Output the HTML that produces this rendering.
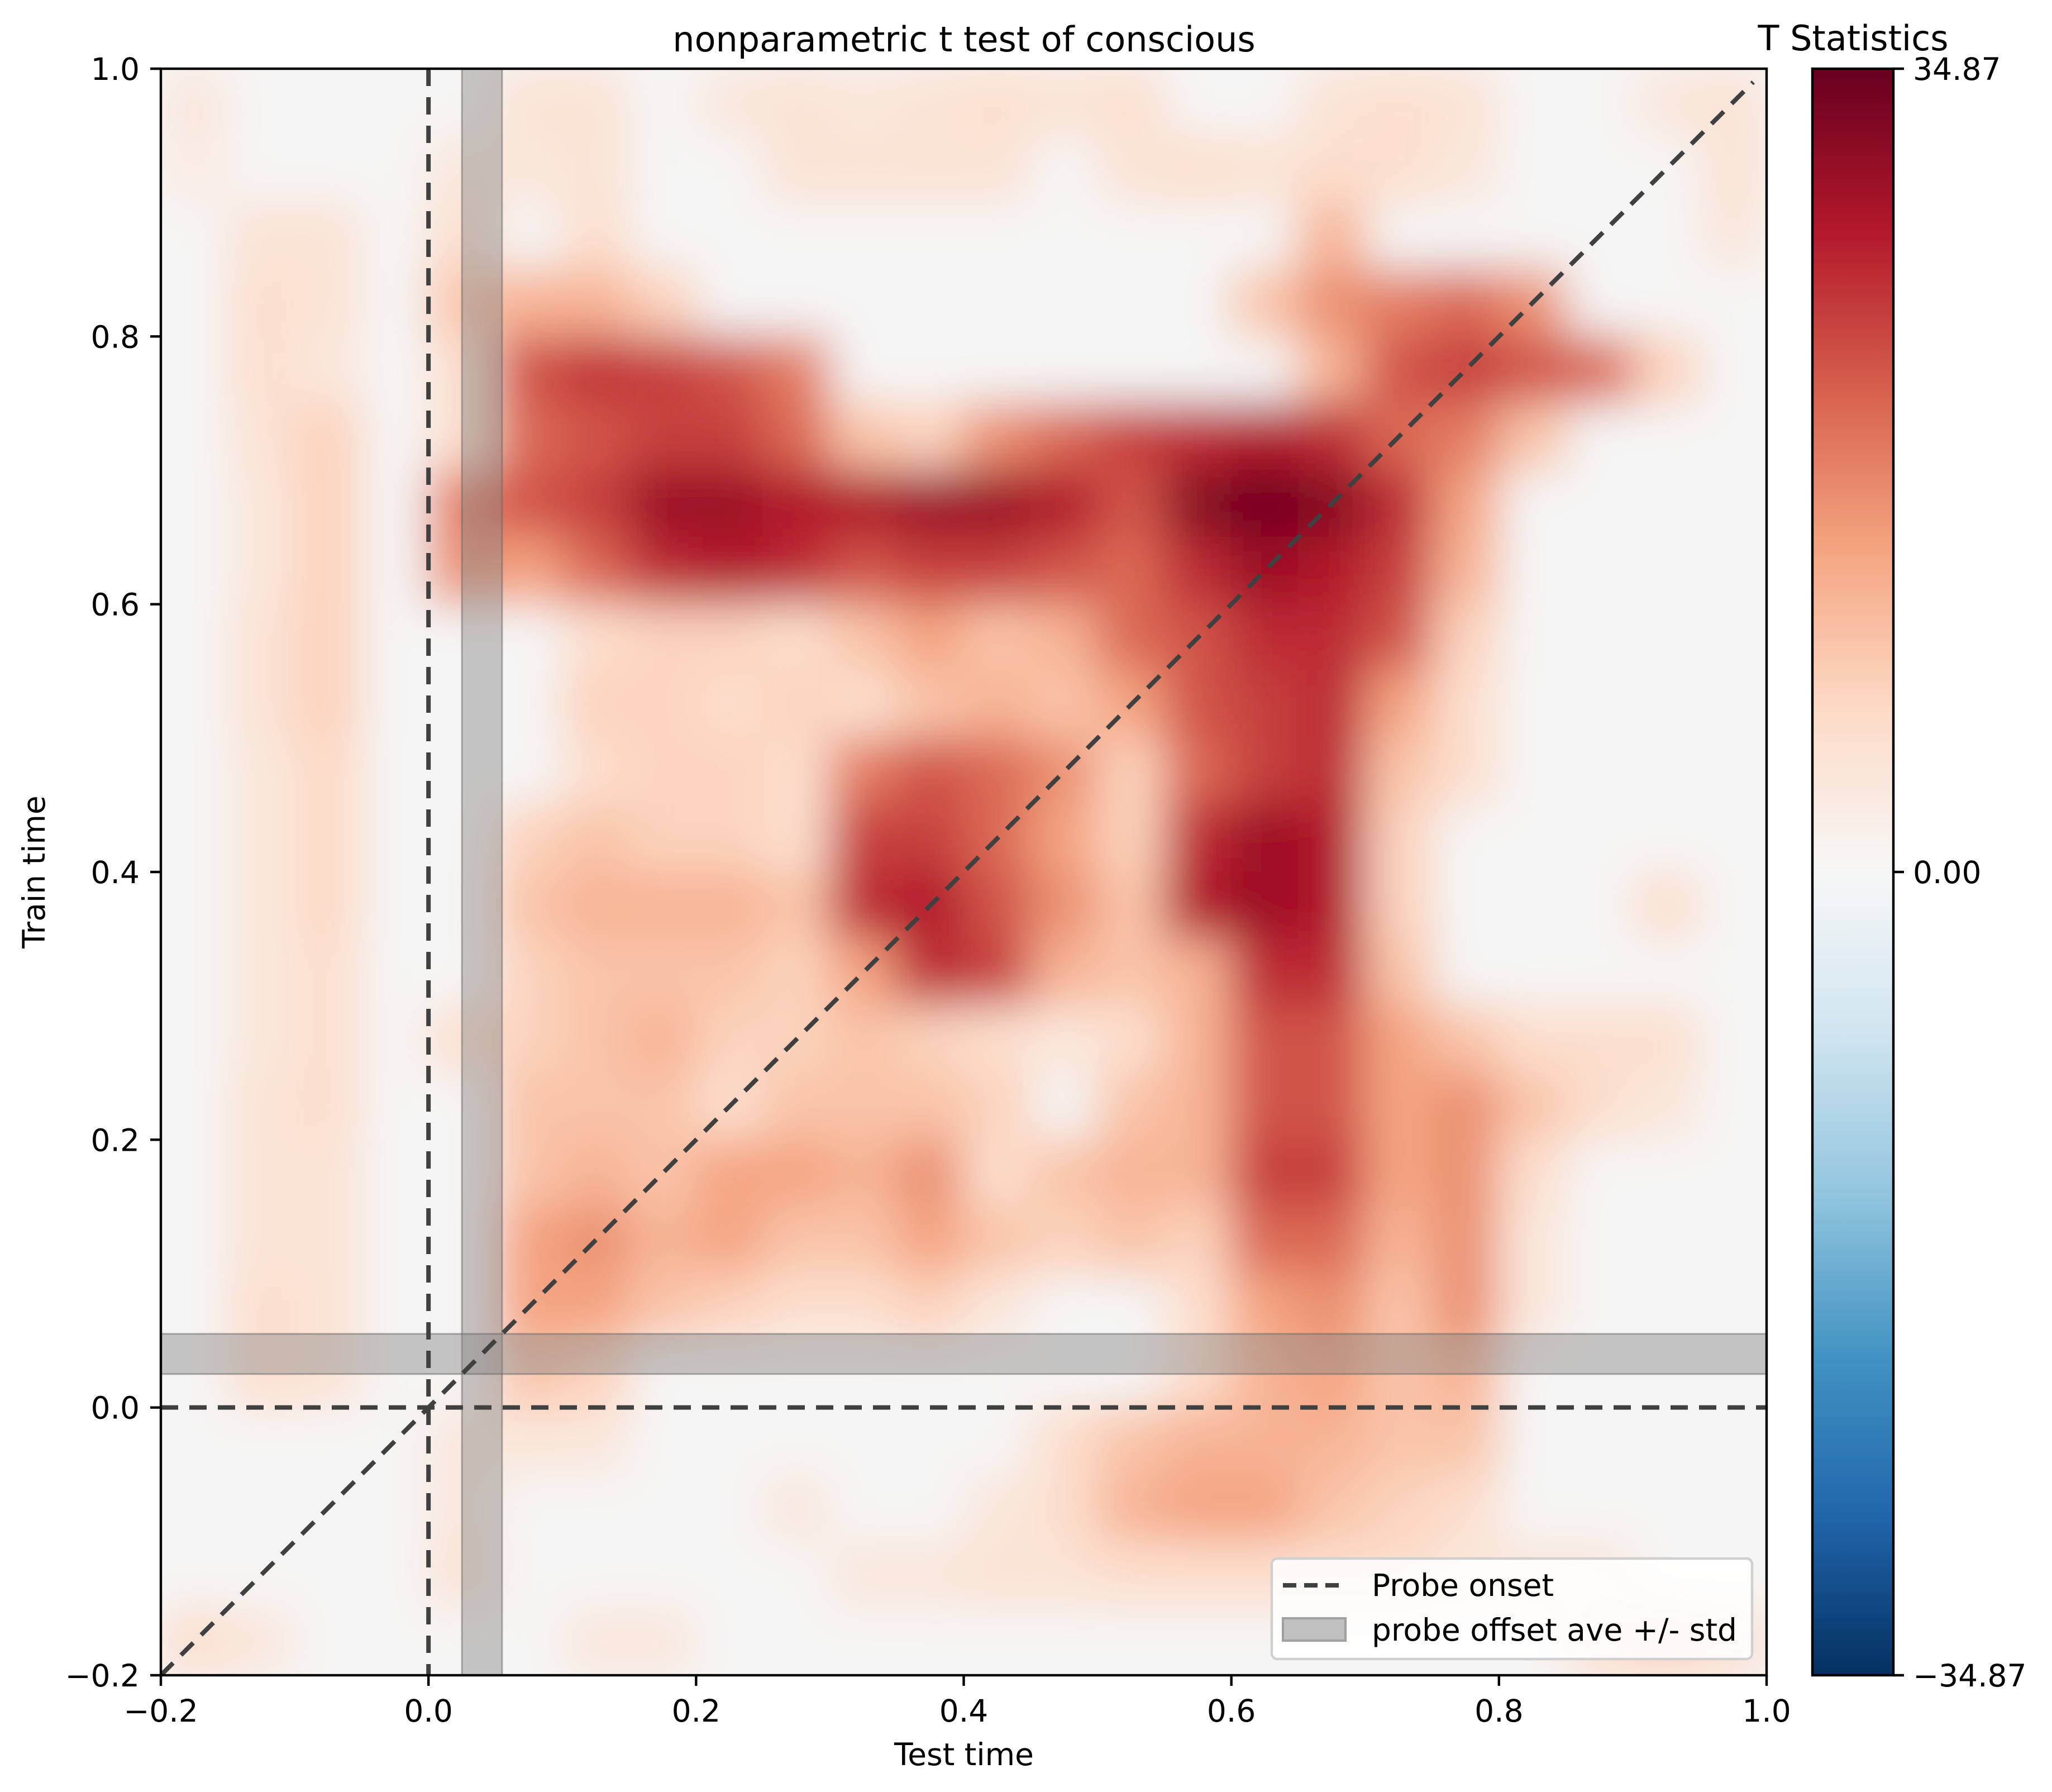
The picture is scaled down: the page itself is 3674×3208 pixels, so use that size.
<!DOCTYPE html>
<html><head><meta charset="utf-8"><style>
html,body{margin:0;padding:0;background:#fff;}
svg{display:block;font-family:"DejaVu Sans","Liberation Sans",sans-serif;}
</style></head><body>
<svg id="chart" xmlns="http://www.w3.org/2000/svg" width="3674" height="3208" viewBox="0 0 3674 3208">
<defs>
<clipPath id="axclip"><rect x="288" y="123" width="2875" height="2876"/></clipPath>
<filter id="blur" x="-5%" y="-5%" width="110%" height="110%"><feGaussianBlur stdDeviation="42"/></filter>
<linearGradient id="cbgrad" x1="0" y1="1" x2="0" y2="0">
<stop offset="0" stop-color="#053061"/><stop offset="0.1" stop-color="#2166ac"/><stop offset="0.2" stop-color="#4393c3"/><stop offset="0.3" stop-color="#92c5de"/><stop offset="0.4" stop-color="#d1e5f0"/><stop offset="0.5" stop-color="#f7f7f7"/><stop offset="0.6" stop-color="#fddbc7"/><stop offset="0.7" stop-color="#f4a582"/><stop offset="0.8" stop-color="#d6604d"/><stop offset="0.9" stop-color="#b2182b"/><stop offset="1" stop-color="#67001f"/>
</linearGradient>
</defs>
<rect x="288" y="123" width="2875" height="2876" fill="#f5f5f5"/>
<g clip-path="url(#axclip)"><g id="heat" filter="url(#blur)"></g></g>
<g id="overlays" clip-path="url(#axclip)"></g>
<g id="axes"></g>
<text x="1726" y="92" font-size="62" text-anchor="middle">nonparametric t test of conscious</text>
<text x="1726" y="3160" font-size="55" text-anchor="middle">Test time</text>
<text x="0" y="0" font-size="55" text-anchor="middle" transform="translate(80,1561) rotate(-90)">Train time</text>
<rect x="3245" y="123" width="145" height="2876" fill="url(#cbgrad)" stroke="#000" stroke-width="4.4"/>
<text x="3318" y="90" font-size="62" text-anchor="middle">T Statistics</text>
<g id="cbticks"></g>
<g>
<rect x="2277" y="2790" width="860" height="180" rx="10" fill="#fff" fill-opacity="0.85" stroke="#d0d0d0" stroke-width="4.4"/>
<line x1="2297" y1="2838" x2="2409" y2="2838" stroke="#404040" stroke-width="8" stroke-dasharray="24,14"/>
<text x="2456" y="2857" font-size="55">Probe onset</text>
<rect x="2297" y="2897" width="112" height="40" fill="#c0c0c0" stroke="#a0a0a0" stroke-width="4"/>
<text x="2456" y="2937" font-size="55">probe offset ave +/- std</text>
</g>
</svg>
<script>
const NS='http://www.w3.org/2000/svg';
const testTimes=[-0.2,-0.15,-0.1,-0.05,0,0.05,0.1,0.15,0.2,0.25,0.3,0.35,0.4,0.45,0.5,0.55,0.6,0.65,0.7,0.75,0.8,0.85,0.9,0.95];
const trainTimes=[0.95,0.9,0.85,0.8,0.75,0.7,0.65,0.6,0.55,0.5,0.45,0.4,0.35,0.3,0.25,0.2,0.15,0.1,0.05,0,-0.05,-0.1,-0.15,-0.2];
const tStats=[
[4,0,0,0,0,5,5,0,4,5,4,5,6,5,6,0,0,5,6,5,0,0,4,5],
[3,0,0,0,4,4,5,0,0,5,5,5,5,0,5,6,5,6,6,4,0,0,0,5],
[0,5,5,0,6,0,6,0,0,0,0,0,0,0,0,0,0,12,0,0,0,0,0,4],
[0,6,5,0,10,12,12,8,0,0,0,0,0,0,0,0,10,16,18,20,16,0,0,0],
[0,6,4,0,6,22,25,24,22,18,0,0,0,0,0,0,0,12,22,24,22,20,8,0],
[0,5,8,0,6,20,22,24,24,20,10,8,16,20,24,26,28,26,20,18,10,0,0,0],
[0,4,8,0,18,22,24,30,30,28,28,30,30,28,22,32,34,32,26,14,0,0,0,0],
[0,4,8,0,16,14,20,26,28,26,22,24,24,22,20,26,30,28,24,12,0,0,0,0],
[0,5,8,0,0,0,6,8,8,6,10,14,10,12,20,22,26,26,22,8,0,0,0,0],
[0,5,8,0,0,0,8,8,6,8,6,10,12,10,14,22,24,26,14,6,0,0,0,0],
[0,4,7,0,0,0,6,8,8,6,18,22,20,16,8,20,24,26,10,6,0,0,0,0],
[0,4,7,0,0,8,10,8,8,6,24,24,20,14,8,26,30,28,8,0,0,0,0,0],
[0,4,7,0,0,10,12,12,12,10,26,28,22,16,10,28,30,28,8,0,0,0,6,0],
[0,4,6,0,0,8,10,10,10,8,14,26,24,12,10,12,26,26,10,0,0,0,0,0],
[0,4,6,0,6,8,10,12,8,8,10,8,6,4,6,12,22,22,14,10,6,6,6,0],
[0,5,6,0,0,10,10,10,6,10,10,10,8,0,10,12,22,22,14,16,10,6,4,0],
[0,5,5,0,0,10,12,10,14,14,12,16,6,10,12,12,24,24,14,16,6,0,0,0],
[0,5,5,0,0,14,16,12,14,10,10,14,10,8,10,8,20,20,12,16,4,0,0,0],
[0,6,5,0,0,14,14,10,8,6,6,8,4,0,0,6,14,16,10,16,4,0,0,0],
[0,6,5,0,0,10,8,0,0,0,0,0,0,0,0,6,12,14,10,12,0,0,0,0],
[0,0,0,0,4,4,4,0,0,0,0,0,0,6,10,12,12,12,10,10,0,0,0,0],
[0,0,0,0,4,0,0,0,0,4,0,0,4,6,12,14,14,10,8,6,0,0,0,0],
[0,0,0,0,5,0,0,0,0,0,4,4,5,5,6,6,6,6,6,4,4,4,0,0],
[6,4,0,0,0,0,4,4,0,0,0,0,0,0,0,0,0,0,0,0,0,6,8,6]
];
const cellSize=0.05;
const xTicks=[-0.2,0,0.2,0.4,0.6,0.8,1.0];
const xTickLabels=['\u22120.2','0.0','0.2','0.4','0.6','0.8','1.0'];
const yTicks=[-0.2,0,0.2,0.4,0.6,0.8,1.0];
const yTickLabels=['\u22120.2','0.0','0.2','0.4','0.6','0.8','1.0'];
const cbTicks=[34.87,0,-34.87];
const cbTickLabels=['34.87','0.00','\u221234.87'];
const vmax=34.87;
const probeOffset=[0.025,0.055];

const X0=288,X1=3163,Y0=2999,Y1=123;
const xs=v=>X0+(v+0.2)/1.2*(X1-X0);
const ys=v=>Y0-(v+0.2)/1.2*(Y0-Y1);
const cb=v=>Y0-(v+vmax)/(2*vmax)*(Y0-Y1);

const stops=[[247,247,247],[253,219,199],[244,165,130],[214,96,77],[178,24,43],[103,0,31]];
function cmap(v){let t=Math.max(0,Math.min(1,v/vmax))*5;let i=Math.min(4,Math.floor(t));let f=t-i;
const a=stops[i],b=stops[i+1];return 'rgb('+a.map((c,k)=>Math.round(c+(b[k]-c)*f)).join(',')+')';}
function mk(tag,attrs,parent){const e=document.createElementNS(NS,tag);for(const k in attrs)e.setAttribute(k,attrs[k]);parent.appendChild(e);return e;}

const heat=document.getElementById('heat');
mk('rect',{x:X0-100,y:Y1-100,width:X1-X0+200,height:Y0-Y1+200,fill:'#f5f5f5'},heat);
tStats.forEach((row,j)=>row.forEach((v,i)=>{
  if(v<=0)return;
  const x=xs(testTimes[i]),y=ys(trainTimes[j]+cellSize);
  const r=mk('rect',{x:x-1,y:y-1,width:xs(testTimes[i]+cellSize)-x+2,height:ys(trainTimes[j])-y+2,fill:cmap(v)},heat);
  
  
}));

const ov=document.getElementById('overlays');
let vb=mk('rect',{x:xs(probeOffset[0]),y:Y1,width:xs(probeOffset[1])-xs(probeOffset[0]),height:Y0-Y1,fill:'rgba(128,128,128,0.42)',stroke:'rgba(100,100,100,0.5)','stroke-width':3},ov);


let hb=mk('rect',{x:X0,y:ys(probeOffset[1]),width:X1-X0,height:ys(probeOffset[0])-ys(probeOffset[1]),fill:'rgba(128,128,128,0.42)',stroke:'rgba(100,100,100,0.5)','stroke-width':3},ov);


const dash={stroke:'#404040','stroke-width':8,'stroke-dasharray':'31,20',fill:'none'};
let l1=mk('line',Object.assign({x1:xs(0),y1:Y1,x2:xs(0),y2:Y0},dash),ov);


let l2=mk('line',Object.assign({x1:X0,y1:ys(0),x2:X1,y2:ys(0)},dash),ov);


let l3=mk('line',Object.assign({x1:xs(-0.2),y1:ys(-0.2),x2:xs(0.99),y2:ys(0.99)},dash),ov);



const ax=document.getElementById('axes');
let fr=mk('rect',{x:X0,y:Y1,width:X1-X0,height:Y0-Y1,fill:'none',stroke:'#000','stroke-width':4.4},ax);


xTicks.forEach((v,i)=>{
  const x=xs(v);
  const t=mk('line',{x1:x,y1:Y0,x2:x,y2:Y0+19,stroke:'#000','stroke-width':4.4},ax);
  
  
  const tx=mk('text',{x:x,y:3082,'font-size':55,'text-anchor':'middle'},ax);tx.textContent=xTickLabels[i];
  
  
});
yTicks.forEach((v,i)=>{
  const y=ys(v);
  const t=mk('line',{x1:X0-19,y1:y,x2:X0,y2:y,stroke:'#000','stroke-width':4.4},ax);
  
  
  const tx=mk('text',{x:250,y:y+20,'font-size':55,'text-anchor':'end'},ax);tx.textContent=yTickLabels[i];
  
  
});
const cbt=document.getElementById('cbticks');
cbTicks.forEach((v,i)=>{
  const y=cb(v);
  const t=mk('line',{x1:3390,y1:y,x2:3409,y2:y,stroke:'#000','stroke-width':4.4},cbt);
  
  
  const tx=mk('text',{x:3425,y:y+20,'font-size':55},cbt);tx.textContent=cbTickLabels[i];
  
  
});
</script>
</body></html>
